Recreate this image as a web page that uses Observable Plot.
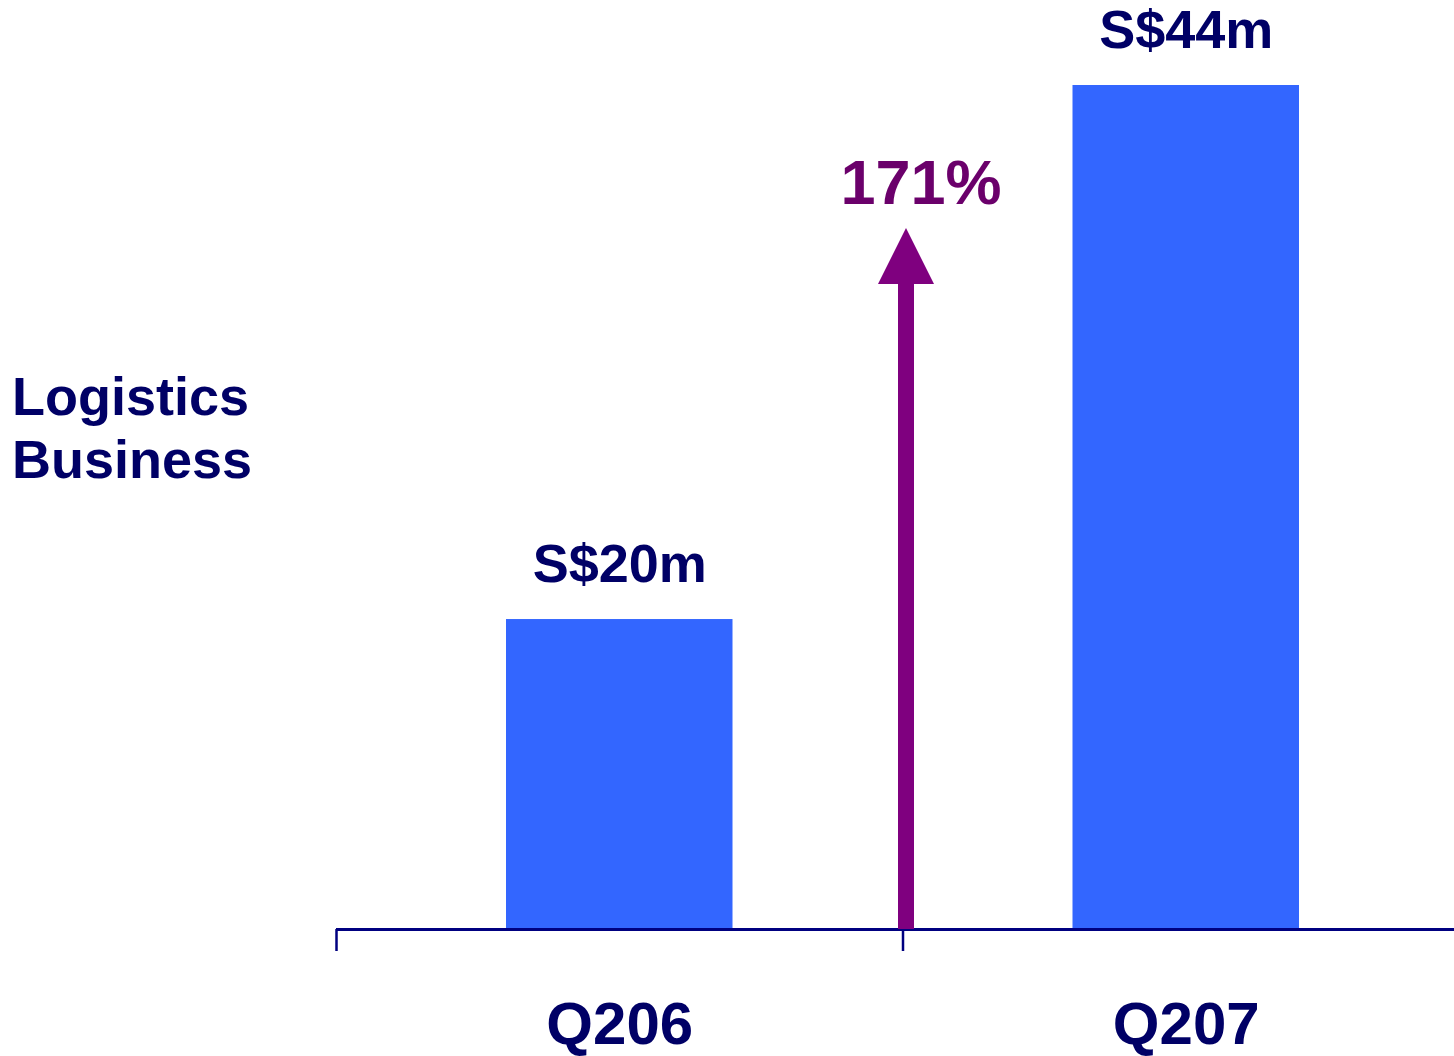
<!DOCTYPE html>
<html>
<head>
<meta charset="utf-8">
<script src="https://cdn.jsdelivr.net/npm/d3@7"></script>
<script src="https://cdn.jsdelivr.net/npm/@observablehq/plot@0.6"></script>
<style>
  html, body { margin: 0; padding: 0; background: #fff; overflow: hidden; }
  #wrap { position: relative; width: 1454px; height: 1056px; }
  #ytitle {
    position: absolute; left: 12px; top: 365px;
    font-family: "Liberation Sans", Arial, Helvetica, sans-serif;
    font-weight: bold; font-size: 54px; line-height: 63px; color: #000066;
  }
</style>
</head>
<body>
<div id="wrap"><div id="ytitle">Logistics<br>Business</div></div>
<script>
// ---- data ----
const quarters = ["Q206", "Q207"];
const revenue = [20, 44];                 // S$ million
const valueLabels = ["S$20m", "S$44m"];
const growthLabel = "171%";
const yDomain = [6.07, 47.82];            // value axis extent as drawn (baseline not at zero)
const arrowShaftTop = 35.08;              // growth arrow: base of arrowhead (value units)
const growthLabelY = 38.69;               // baseline of the growth label (value units)

// ---- derived table ----
const bars = quarters.map((q, i) => ({i, q, v: revenue[i], label: valueLabels[i]}));

const NAVY = "#000066";
const AXIS = "#000080";
const BAR = "#3366FF";
const PURPLE = "#7F007F";
const FONT = "'Liberation Sans', Arial, Helvetica, sans-serif";

const upTriangle = {
  draw(context, size) {
    const r = Math.sqrt(size / Math.PI);
    context.moveTo(-r, 0);
    context.lineTo(r, 0);
    context.lineTo(0, -2 * r);
    context.closePath();
  }
};

const chart = Plot.plot({
  width: 1454,
  height: 1056,
  marginLeft: 336,
  marginRight: -15,
  marginTop: 0,
  marginBottom: 127,
  style: {fontFamily: FONT, background: "white", overflow: "visible"},
  x: {type: "linear", domain: [0, quarters.length]},
  y: {domain: yDomain, axis: null},
  marks: [
    Plot.rectY(bars, {
      x1: d => d.i, x2: d => d.i + 1, y1: yDomain[0], y2: "v",
      insetLeft: 170, insetRight: 170, fill: BAR
    }),
    Plot.ruleY([yDomain[0]], {stroke: AXIS, strokeWidth: 3}),
    Plot.axisX({
      ticks: d3.range(quarters.length + 1), tickSize: 22, tickFormat: () => "",
      stroke: AXIS, strokeWidth: 2.5
    }),
    Plot.axisX({
      ticks: quarters.map((q, i) => i + 0.5), tickSize: 0, tickPadding: 72,
      tickFormat: t => quarters[Math.floor(t)],
      fill: NAVY, fontSize: 60, fontWeight: "bold"
    }),
    Plot.text(bars, {
      x: d => d.i + 0.5, y: "v", text: "label", lineAnchor: "bottom", dy: -38,
      fill: NAVY, fontSize: 54, fontWeight: "bold"
    }),
    // growth arrow between the two quarters
    Plot.ruleX([quarters.length / 2], {
      y1: yDomain[0], y2: arrowShaftTop, stroke: PURPLE, strokeWidth: 16, dx: 3
    }),
    Plot.dot([quarters.length / 2], {
      x: d => d, y: arrowShaftTop, symbol: upTriangle, r: 28, fill: PURPLE, stroke: null, dx: 3
    }),
    Plot.text([growthLabel], {
      x: quarters.length / 2, y: growthLabelY, text: d => d, lineAnchor: "bottom", dx: 18,
      fill: "#6B006B", fontSize: 63, fontWeight: "bold"
    })
  ]
});
document.getElementById("wrap").prepend(chart);
</script>
</body>
</html>
